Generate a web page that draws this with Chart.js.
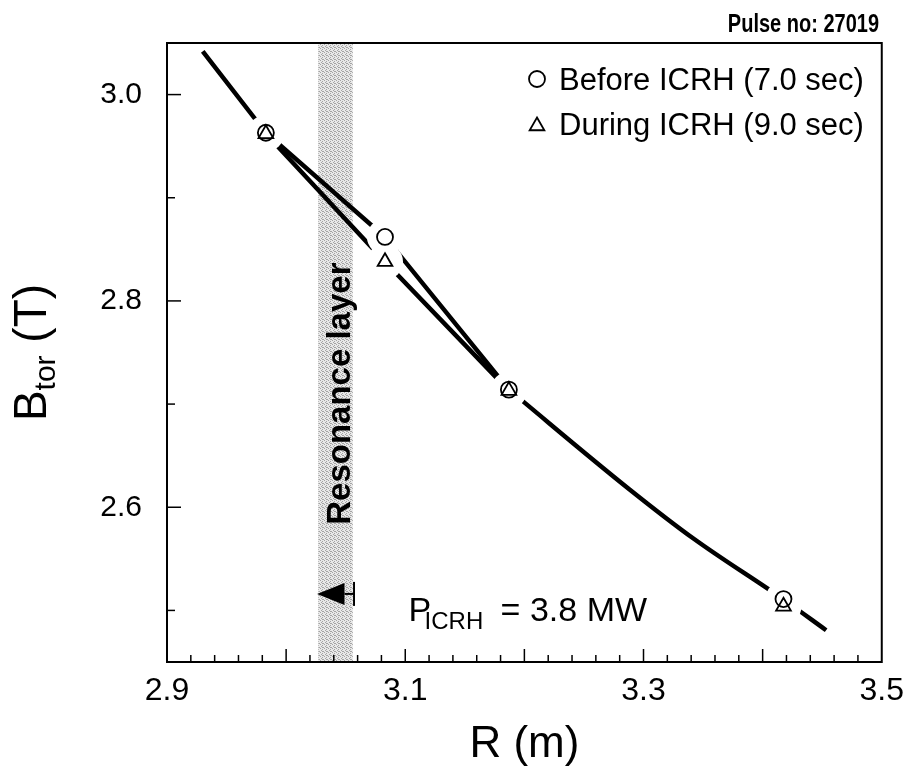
<!DOCTYPE html>
<html><head><meta charset="utf-8">
<script src="https://cdn.jsdelivr.net/npm/chart.js@4.4.1/dist/chart.umd.min.js"></script>
<style>html,body{margin:0;padding:0;background:#fff;}canvas{display:block;}</style>
</head><body>
<canvas id="c" width="914" height="775"></canvas>
<script>
// ---- data ----
const seriesLabels = ['Before ICRH (7.0 sec)', 'During ICRH (9.0 sec)'];
const beforeR = [2.983, 3.083, 3.187, 3.4175];
const beforeB = [2.963, 2.862, 2.714, 2.511];
const duringR = [2.983, 3.083, 3.187, 3.4175];
const duringB = [2.962, 2.838, 2.713, 2.504];
const curveBeforeR = [2.930, 2.983, 3.083, 3.187];
const curveBeforeB = [3.042, 2.963, 2.862, 2.714];
const curveDuringR = [2.983, 3.083, 3.187];
const curveDuringB = [2.962, 2.838, 2.713];
const curveTailR = [3.187, 3.2883, 3.3425, 3.4175, 3.4533];
const curveTailB = [2.714, 2.6173, 2.5692, 2.5106, 2.4808];
const xTickLabels = [2.9, 3.1, 3.3, 3.5];
const yTickLabels = [2.6, 2.8, 3.0];
const xMajorTicks = [3.0, 3.1, 3.2, 3.3, 3.4];
const yMinorTicks = [2.5, 2.7, 2.9];
const xRange = [2.9, 3.5];
const yRange = [2.45, 3.05];
const resonanceR = [3.027, 3.056];
const resonanceTextB = 2.583;
const arrowR = [3.026, 3.049, 3.057];
const arrowB = 2.516;
const powerLabelPos = [3.1045, 2.4894];
const pulseLabel = 'Pulse no: 27019';

const FONT = '"Liberation Sans", Arial, Helvetica, sans-serif';
const pts = (xs, ys) => xs.map((v, i) => ({x: v, y: ys[i]}));

// stipple pattern for resonance band
const pc = document.createElement('canvas'); pc.width = 4; pc.height = 4;
const pctx = pc.getContext('2d');
pctx.fillStyle = '#e8e8e8'; pctx.fillRect(0, 0, 4, 4);
pctx.fillStyle = '#a4a4a4';
[[0,0],[2,1],[1,2],[3,3],[2,3]].forEach(([i,j]) => pctx.fillRect(i, j, 1, 1));

function drawMarker(ctx, style, x, y, r) {
  ctx.beginPath();
  if (style === 'circle') { ctx.arc(x, y, r, 0, Math.PI * 2); }
  else {
    let rad = 0;
    for (let k = 0; k < 3; k++) {
      const px = x + Math.sin(rad) * r, py = y - Math.cos(rad) * r;
      k ? ctx.lineTo(px, py) : ctx.moveTo(px, py);
      rad += 2 * Math.PI / 3;
    }
    ctx.closePath();
  }
  ctx.stroke();
}

const annot = {
  id: 'annot',
  beforeDatasetsDraw(chart) {
    const {ctx, chartArea: a, scales: {x, y}} = chart;
    ctx.save();
    // resonance band
    const x0 = x.getPixelForValue(resonanceR[0]), x1 = x.getPixelForValue(resonanceR[1]);
    ctx.fillStyle = ctx.createPattern(pc, 'repeat');
    ctx.fillRect(x0, a.top, x1 - x0, a.bottom - a.top);
    // resonance text
    ctx.save();
    ctx.translate(x1 - 3, y.getPixelForValue(resonanceTextB));
    ctx.rotate(-Math.PI / 2);
    ctx.fillStyle = '#000';
    ctx.font = 'bold 33px ' + FONT;
    ctx.textAlign = 'left'; ctx.textBaseline = 'alphabetic';
    ctx.fillText('Resonance layer', 0, 0);
    ctx.restore();
    // arrow
    const ay = y.getPixelForValue(arrowB);
    const tip = x.getPixelForValue(arrowR[0]), base = x.getPixelForValue(arrowR[1]), bar = x.getPixelForValue(arrowR[2]);
    ctx.fillStyle = '#000'; ctx.strokeStyle = '#000';
    ctx.beginPath(); ctx.moveTo(tip, ay); ctx.lineTo(base, ay - 11); ctx.lineTo(base, ay + 11); ctx.closePath(); ctx.fill();
    ctx.lineWidth = 2;
    ctx.beginPath(); ctx.moveTo(base, ay); ctx.lineTo(bar, ay); ctx.stroke();
    ctx.beginPath(); ctx.moveTo(bar, ay - 12); ctx.lineTo(bar, ay + 12); ctx.stroke();
    // P_ICRH label
    const px = x.getPixelForValue(powerLabelPos[0]), py = y.getPixelForValue(powerLabelPos[1]);
    ctx.textAlign = 'left'; ctx.textBaseline = 'alphabetic';
    ctx.font = '34px ' + FONT; ctx.fillText('P', px - 2, py);
    ctx.font = '24px ' + FONT; ctx.fillText('ICRH', px + 14, py + 8);
    ctx.font = '34px ' + FONT; ctx.fillText('= 3.8 MW', px + 90, py);
    ctx.restore();
  },
  afterDraw(chart) {
    const {ctx, chartArea: a, scales: {x, y}} = chart;
    ctx.save();
    ctx.strokeStyle = '#000'; ctx.fillStyle = '#000';
    // frame
    ctx.lineWidth = 2;
    ctx.strokeRect(a.left, a.top, a.right - a.left, a.bottom - a.top);
    // inward ticks x
    ctx.lineWidth = 1.5;
    for (let v = xRange[0] + 0.02; v < xRange[1] - 0.001; v += 0.02) {
      const isMajor = xMajorTicks.some(t => Math.abs(t - v) < 1e-6);
      const p = x.getPixelForValue(v);
      ctx.beginPath(); ctx.moveTo(p, a.bottom); ctx.lineTo(p, a.bottom - (isMajor ? 13 : 7)); ctx.stroke();
    }
    // inward ticks y
    yTickLabels.forEach(v => { const p = y.getPixelForValue(v); ctx.beginPath(); ctx.moveTo(a.left, p); ctx.lineTo(a.left + 14, p); ctx.stroke(); });
    yMinorTicks.forEach(v => { const p = y.getPixelForValue(v); ctx.beginPath(); ctx.moveTo(a.left, p); ctx.lineTo(a.left + 8, p); ctx.stroke(); });
    // legend
    ctx.font = '31px ' + FONT; ctx.textAlign = 'left'; ctx.textBaseline = 'alphabetic';
    const legY = [90, 135], symX = 537, txtX = 559;
    ctx.lineWidth = 1.8;
    drawMarker(ctx, 'circle', symX, legY[0] - 11, 8);
    drawMarker(ctx, 'triangle', symX, legY[1] - 9, 8.5);
    ctx.fillText(seriesLabels[0], txtX, legY[0]);
    ctx.fillText(seriesLabels[1], txtX, legY[1]);
    // y title B_tor (T)
    ctx.save();
    const bigF = '46px ' + FONT, subF = '30px ' + FONT;
    ctx.font = bigF; const wB = ctx.measureText('B').width, wT = ctx.measureText(' (T)').width;
    ctx.font = subF; const wS = ctx.measureText('tor').width;
    const total = wB + wS + wT;
    const cy = (a.top + a.bottom) / 2;
    ctx.translate(46, cy + total / 2);
    ctx.rotate(-Math.PI / 2);
    ctx.font = bigF; ctx.fillText('B', 0, 0);
    ctx.font = subF; ctx.fillText('tor', wB, 9);
    ctx.font = bigF; ctx.fillText(' (T)', wB + wS, 0);
    ctx.restore();
    // pulse label
    ctx.save();
    ctx.font = 'bold 25px ' + FONT; ctx.textAlign = 'right';
    ctx.translate(879, 32); ctx.scale(0.8, 1);
    ctx.fillText(pulseLabel, 0, 0);
    ctx.restore();
    ctx.restore();
  }
};

const lineStyle = {showLine: true, borderColor: '#000', borderWidth: 4.5, pointRadius: 0, pointHoverRadius: 0, tension: 0, borderCapStyle: 'butt', order: 3, fill: false};

new Chart(document.getElementById('c'), {
  type: 'scatter',
  data: {
    datasets: [
      {label: seriesLabels[0], data: pts(beforeR, beforeB), pointStyle: 'circle', pointRadius: 8, pointBorderWidth: 1.8, borderColor: '#000', backgroundColor: 'rgba(0,0,0,0)', order: 0},
      {label: seriesLabels[1], data: pts(duringR, duringB), pointStyle: 'triangle', pointRadius: 8.5, pointBorderWidth: 1.8, borderColor: '#000', backgroundColor: 'rgba(0,0,0,0)', order: 0},
      {label: 'gap', data: pts(beforeR, beforeB).concat(pts(duringR, duringB)), pointRadius: 18, pointBorderWidth: 0, borderColor: '#fff', backgroundColor: '#fff', order: 1},
      Object.assign({label: 'curveBefore', data: pts(curveBeforeR, curveBeforeB)}, lineStyle),
      Object.assign({label: 'curveDuring', data: pts(curveDuringR, curveDuringB)}, lineStyle),
      Object.assign({label: 'curveTail', data: pts(curveTailR, curveTailB), cubicInterpolationMode: 'monotone'}, lineStyle)
    ]
  },
  options: {
    responsive: false, animation: false, devicePixelRatio: 1,
    layout: {padding: {left: 0, top: 38, right: 28, bottom: 0}},
    plugins: {legend: {display: false}, tooltip: {enabled: false}},
    events: [],
    scales: {
      x: {
        type: 'linear', position: 'bottom', min: xRange[0], max: xRange[1],
        grid: {display: false, drawTicks: false}, border: {display: false},
        afterBuildTicks: s => { s.ticks = xTickLabels.map(v => ({value: v})); },
        afterFit: s => { s.height = 113; },
        ticks: {color: '#000', padding: 10, font: {size: 32, family: FONT}, maxRotation: 0, autoSkip: false, callback: v => Number(v).toFixed(1)},
        title: {display: true, text: 'R (m)', color: '#000', font: {size: 44, family: FONT}, padding: {top: 0, bottom: 4}}
      },
      y: {
        type: 'linear', min: yRange[0], max: yRange[1],
        grid: {display: false, drawTicks: false}, border: {display: false},
        afterBuildTicks: s => { s.ticks = yTickLabels.map(v => ({value: v})); },
        afterFit: s => { s.width = 167; },
        ticks: {color: '#000', padding: 25, font: {size: 30, family: FONT}, autoSkip: false, callback: v => Number(v).toFixed(1)}
      }
    }
  },
  plugins: [annot]
});
</script>
</body></html>
